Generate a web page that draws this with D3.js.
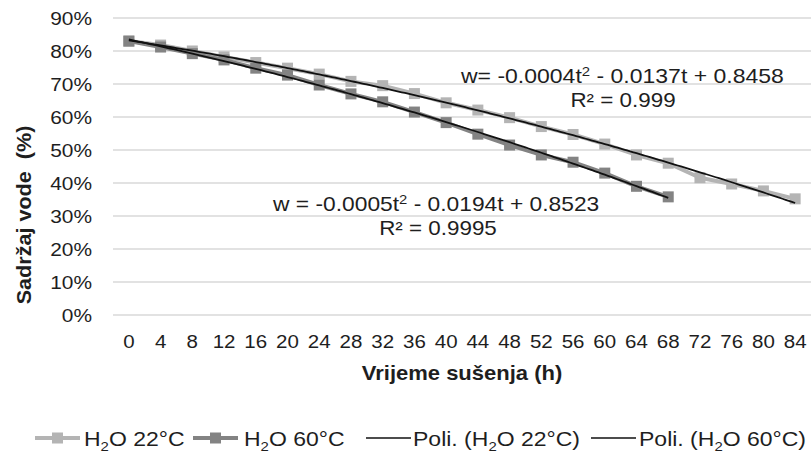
<!DOCTYPE html>
<html>
<head>
<meta charset="utf-8">
<script src="https://cdn.jsdelivr.net/npm/d3@7/dist/d3.min.js"></script>
<style>
  html, body { margin: 0; padding: 0; background: #fff; }
  svg { display: block; font-family: "Liberation Sans", Arial, sans-serif; }
</style>
</head>
<body>
<svg id="chart" width="811" height="455"></svg>
<script>
// Drying time (h), category axis
const hours = [0, 4, 8, 12, 16, 20, 24, 28, 32, 36, 40, 44, 48, 52, 56, 60, 64, 68, 72, 76, 80, 84];
// Water content (fraction) at 22 °C
const water22 = [0.830, 0.818, 0.800, 0.782, 0.765, 0.748, 0.730, 0.708, 0.695, 0.671, 0.643,
                 0.621, 0.598, 0.571, 0.547, 0.518, 0.485, 0.460, 0.416, 0.397, 0.376, 0.352];
// Water content (fraction) at 60 °C
const water60 = [0.830, 0.812, 0.792, 0.773, 0.748, 0.727, 0.697, 0.670, 0.646, 0.615, 0.583,
                 0.548, 0.515, 0.485, 0.463, 0.430, 0.390, 0.358];
const yTicks = [0, 0.1, 0.2, 0.3, 0.4, 0.5, 0.6, 0.7, 0.8, 0.9];
const eq22 = ["w= -0.0004t", "2", " - 0.0137t + 0.8458"];
const r22 = "R² = 0.999";
const eq60 = ["w = -0.0005t", "2", " - 0.0194t + 0.8523"];
const r60 = "R² = 0.9995";

const svg = d3.select("#chart");
const plotLeft = 113, plotRight = 811, plotTop = 18, plotBottom = 315;
const ink = "#1e1e1e";

const x = d3.scaleBand().domain(hours).range([plotLeft, plotRight]);
const y = d3.scaleLinear().domain([0, 0.9]).range([plotBottom, plotTop]);
const cx = h => x(h) + x.bandwidth() / 2;

const light = "#b4b4b4", dark = "#838383";

// text placed at (px, py) and widened horizontally by sx
function label(parent, px, py, sx, extra = "") {
  return parent.append("text")
    .attr("transform", `translate(${px},${py}) ${extra} scale(${sx},1)`)
    .attr("fill", ink).attr("font-size", 20).attr("xml:space", "preserve");
}

// gridlines
svg.append("g").selectAll("line").data(yTicks).join("line")
  .attr("x1", plotLeft).attr("x2", plotRight)
  .attr("y1", d => y(d)).attr("y2", d => y(d))
  .attr("stroke", "#d9d9d9").attr("stroke-width", 1.5);

// y axis labels
const yAxis = svg.append("g").attr("transform", `translate(${plotLeft - 21},0)`)
  .call(d3.axisLeft(y).tickValues(yTicks).tickFormat(d3.format(".0%")).tickSize(0).tickPadding(0));
yAxis.select(".domain").remove();
yAxis.selectAll("text").attr("font-size", 19).attr("fill", ink)
  .attr("font-family", "Liberation Sans, Arial, sans-serif")
  .attr("transform", "scale(1.1,1)");

// x axis labels
const xAxis = svg.append("g").attr("transform", `translate(0,${plotBottom + 20})`)
  .call(d3.axisBottom(x).tickSize(0).tickPadding(0));
xAxis.select(".domain").remove();
xAxis.selectAll("text").attr("font-size", 19).attr("fill", ink)
  .attr("font-family", "Liberation Sans, Arial, sans-serif")
  .attr("transform", "scale(1.08,1)");

// axis titles
label(svg, 31, 215, 1.08, "rotate(-90)")
  .attr("text-anchor", "middle").attr("font-weight", "bold")
  .text("Sadržaj vode  (%)");
label(svg, 462, 380, 1.1)
  .attr("text-anchor", "middle").attr("font-weight", "bold")
  .text("Vrijeme sušenja (h)");

// data series
function drawSeries(values, color) {
  const pts = values.map((v, i) => [cx(hours[i]), y(v)]);
  svg.append("path").attr("d", d3.line()(pts))
    .attr("fill", "none").attr("stroke", color).attr("stroke-width", 4).attr("stroke-linejoin", "round");
  svg.append("g").selectAll("rect").data(pts).join("rect")
    .attr("x", d => d[0] - 5.5).attr("y", d => d[1] - 5.5)
    .attr("width", 11).attr("height", 11).attr("fill", color);
}
drawSeries(water22, light);
drawSeries(water60, dark);

// quadratic least-squares fit over category index 1..n
function quadFit(values) {
  const s = [0, 0, 0, 0, 0], t = [0, 0, 0];
  values.forEach((v, i) => {
    const k = i + 1;
    for (let p = 0; p < 5; p++) s[p] += Math.pow(k, p);
    for (let p = 0; p < 3; p++) t[p] += v * Math.pow(k, p);
  });
  const A = [[s[0], s[1], s[2], t[0]], [s[1], s[2], s[3], t[1]], [s[2], s[3], s[4], t[2]]];
  for (let i = 0; i < 3; i++) {
    for (let j = i + 1; j < 3; j++) {
      const f = A[j][i] / A[i][i];
      for (let c = i; c < 4; c++) A[j][c] -= f * A[i][c];
    }
  }
  const c = [0, 0, 0];
  for (let i = 2; i >= 0; i--) {
    let sum = A[i][3];
    for (let j = i + 1; j < 3; j++) sum -= A[i][j] * c[j];
    c[i] = sum / A[i][i];
  }
  return k => c[0] + c[1] * k + c[2] * k * k;
}
function drawTrend(values) {
  const f = quadFit(values);
  const n = values.length;
  const step = x.step();
  const samples = d3.range(1, n + 0.001, 0.1);
  const line = d3.line()
    .x(k => cx(hours[0]) + (k - 1) * step)
    .y(k => y(f(k)));
  svg.append("path").attr("d", line(samples))
    .attr("fill", "none").attr("stroke", "#111").attr("stroke-width", 1.8);
}
drawTrend(water22);
drawTrend(water60);

// trendline equations
function equation(parts, px, py, sx) {
  const t = label(svg, px, py, sx);
  t.append("tspan").text(parts[0]);
  t.append("tspan").attr("dy", -7).attr("font-size", 13).text(parts[1]);
  t.append("tspan").attr("dy", 7).text(parts[2]);
}
equation(eq22, 461, 83, 1.15);
label(svg, 623, 107, 1.12).attr("text-anchor", "middle").text(r22);
equation(eq60, 273, 211, 1.14);
label(svg, 438, 235, 1.12).attr("text-anchor", "middle").text(r60);

// legend
const legendY = 438;
const legend = svg.append("g");
function legendText(px, prefix, suffix) {
  const t = label(legend, px, legendY + 8, 1.15);
  t.append("tspan").text(prefix + "H");
  t.append("tspan").attr("dy", 5).attr("font-size", 13).text("2");
  t.append("tspan").attr("dy", -5).text("O " + suffix);
}
function legendMarker(x0, color) {
  legend.append("line").attr("x1", x0).attr("x2", x0 + 45).attr("y1", legendY).attr("y2", legendY)
    .attr("stroke", color).attr("stroke-width", 4);
  legend.append("rect").attr("x", x0 + 22.5 - 5.5).attr("y", legendY - 5.5)
    .attr("width", 11).attr("height", 11).attr("fill", color);
}
function legendLine(x0) {
  legend.append("line").attr("x1", x0).attr("x2", x0 + 45).attr("y1", legendY).attr("y2", legendY)
    .attr("stroke", "#111").attr("stroke-width", 1.5);
}
legendMarker(35, light);
legendText(84, "", "22°C");
legendMarker(193, dark);
legendText(244, "", "60°C");
legendLine(366);
legendText(413, "Poli. (", "22°C)");
legendLine(591);
legendText(639, "Poli. (", "60°C)");
</script>
</body>
</html>
